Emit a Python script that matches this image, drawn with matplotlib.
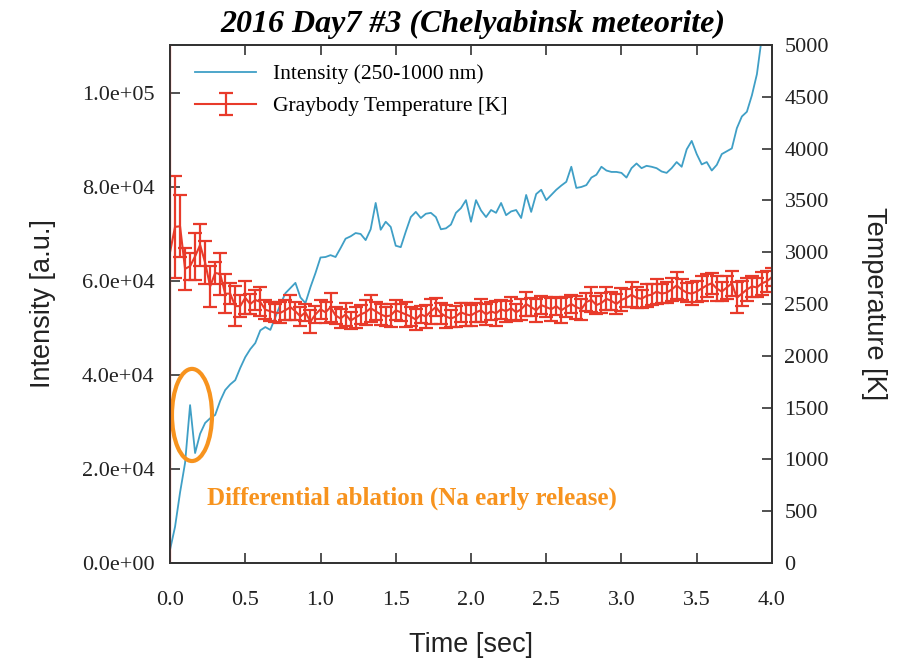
import matplotlib
matplotlib.use("Agg")
import matplotlib.pyplot as plt
from matplotlib.patches import Ellipse
import numpy as np

# frames at 30 fps, 0 .. 4 s
frame_rate = 30
n_frames = 121

intensity = [
    2800, 7700, 15000, 21300, 33600, 23400, 27500, 29800, 30800, 31500,
    34500, 36800, 38000, 38900, 41500, 43800, 45500, 46800, 49500, 50200,
    49600, 52300, 55000, 57400, 58500, 59600, 56500, 55300, 58700, 61700,
    65000, 65100, 65500, 65100, 67000, 69000, 69500, 70200, 70000, 68700,
    71000, 76600, 70900, 72600, 71500, 67500, 67200, 70500, 73600, 74700,
    73400, 74300, 74500, 73600, 71000, 71200, 72000, 74500, 75500, 77200,
    72600, 77200, 75000, 73600, 75100, 74500, 76600, 74000, 74800, 75100,
    73400, 78300, 74700, 78500, 79400, 77200, 78300, 79400, 80300, 81100,
    84300, 79800, 80000, 80400, 82000, 82600, 84300, 83500, 83200, 83200,
    83000, 82000, 84000, 85000, 84000, 84500, 84300, 84000, 83300, 83000,
    84000, 85300, 84300, 88000, 89800, 87000, 84800, 85300, 83500, 84700,
    87000, 87600, 88200, 92500, 95000, 96000, 99500, 104000, 112000, 120000,
    128000,
]

temperature = [
    3000, 3245, 3250, 2840, 2865, 2960, 3070, 2900, 2670, 2800,
    2790, 2600, 2600, 2480, 2480, 2560, 2500, 2540, 2520, 2445,
    2430, 2415, 2415, 2440, 2470, 2430, 2380, 2420, 2330, 2400,
    2450, 2420, 2470, 2390, 2360, 2400, 2340, 2370, 2400, 2420,
    2460, 2430, 2400, 2380, 2390, 2440, 2420, 2400, 2380, 2350,
    2400, 2380, 2430, 2470, 2410, 2380, 2360, 2380, 2420, 2400,
    2390, 2420, 2440, 2400, 2430, 2410, 2450, 2430, 2460, 2420,
    2450, 2500, 2470, 2440, 2490, 2470, 2450, 2480, 2440, 2470,
    2500, 2470, 2450, 2520, 2540, 2490, 2510, 2550, 2530, 2500,
    2540, 2560, 2590, 2560, 2550, 2580, 2590, 2620, 2600, 2610,
    2640, 2680, 2640, 2610, 2600, 2620, 2650, 2680, 2700, 2650,
    2620, 2660, 2700, 2560, 2600, 2640, 2670, 2660, 2700, 2720,
    2760,
]

temp_err = [
    3100, 490, 300, 200, 130, 230, 200, 210, 195, 110,
    200, 185, 100, 190, 110, 160, 100, 95, 140, 90,
    90, 85, 100, 95, 120, 85, 90, 85, 110, 85,
    90, 100, 140, 85, 95, 110, 85, 100, 90, 120,
    130, 85, 100, 90, 110, 95, 85, 120, 90, 100,
    85, 110, 120, 90, 100, 110, 85, 100, 90, 110,
    100, 90, 110, 100, 85, 120, 90, 100, 110, 85,
    100, 120, 90, 110, 85, 100, 110, 90, 120, 100,
    90, 110, 100, 85, 120, 90, 100, 110, 90, 100,
    110, 85, 120, 100, 90, 110, 100, 120, 90, 100,
    110, 130, 100, 90, 110, 100, 120, 110, 100, 120,
    90, 110, 120, 150, 120, 110, 100, 90, 110, 100,
    90,
]

time = np.arange(n_frames) / frame_rate

blue = "#3f9fc6"
red = "#e83a2a"
orange = "#f7931e"
serif = "Liberation Serif"
sans = "Liberation Sans"

fig = plt.figure(figsize=(9.19, 6.62), dpi=100)
ax1 = fig.add_axes([0.185, 0.1495, 0.655, 0.7825])
ax2 = ax1.twinx()

line, = ax1.plot(time, intensity, color=blue, lw=1.3, label="Intensity (250-1000 nm)")
eb = ax2.errorbar(time, temperature, yerr=temp_err, color=red, lw=1.5,
                  capsize=5, capthick=1.6, elinewidth=1.6,
                  label="Graybody Temperature [K]")

ax1.set_xlim(0, 4.0)
ax1.set_ylim(0, 1.102e5)
ax2.set_ylim(0, 5000)

ax1.set_xticks(np.arange(0, 4.01, 0.5))
ax1.set_xticklabels([f"{v:.1f}" for v in np.arange(0, 4.01, 0.5)])
ax1.set_yticks(np.arange(0, 1.01e5, 2e4))
ax1.set_yticklabels([f"{v:.1e}" for v in np.arange(0, 1.01e5, 2e4)])
ax2.set_yticks(np.arange(0, 5001, 500))

for ax in (ax1, ax2):
    for sp in ax.spines.values():
        sp.set_color("#333333")
        sp.set_linewidth(1.3)
    for lab in ax.get_xticklabels() + ax.get_yticklabels():
        lab.set_fontfamily(serif)
        lab.set_fontsize(16)
        lab.set_color("#222222")

ax1.tick_params(axis="both", direction="in", length=7, width=1.2, color="#333333")
ax1.tick_params(axis="x", top=True, pad=20)
ax1.tick_params(axis="y", pad=11)
ax2.tick_params(axis="y", direction="in", length=7, width=1.2, color="#333333", pad=9)

ax1.set_xlabel("Time [sec]", fontfamily=sans, fontsize=19.5, labelpad=16, color="#222222")
ax1.set_ylabel("Intensity [a.u.]", fontfamily=sans, fontsize=19.5, labelpad=19, color="#222222")
ax2.set_ylabel("Temperature [K]", fontfamily=sans, fontsize=19.5, rotation=270,
               labelpad=42, color="#222222")

fig.suptitle("2016 Day7 #3 (Chelyabinsk meteorite)", x=0.515, y=0.985,
             fontfamily=serif, fontsize=23, fontweight="bold", fontstyle="italic")

ax2.legend([line, eb], [line.get_label(), "Graybody Temperature [K]"],
           loc="upper left", bbox_to_anchor=(0.01, 1.0), frameon=False,
           prop={"family": serif, "size": 15.5}, handlelength=2.8, labelspacing=0.55,
           handletextpad=0.8)

ax1.add_patch(Ellipse((0.146, 31500), 0.266, 19600, fill=False,
                      edgecolor=orange, lw=3, zorder=5))
ax1.text(0.245, 13700, "Differential ablation (Na early release)", color=orange,
         fontfamily=serif, fontsize=18, fontweight="bold", va="center")

fig.savefig("out.png", dpi=100)
